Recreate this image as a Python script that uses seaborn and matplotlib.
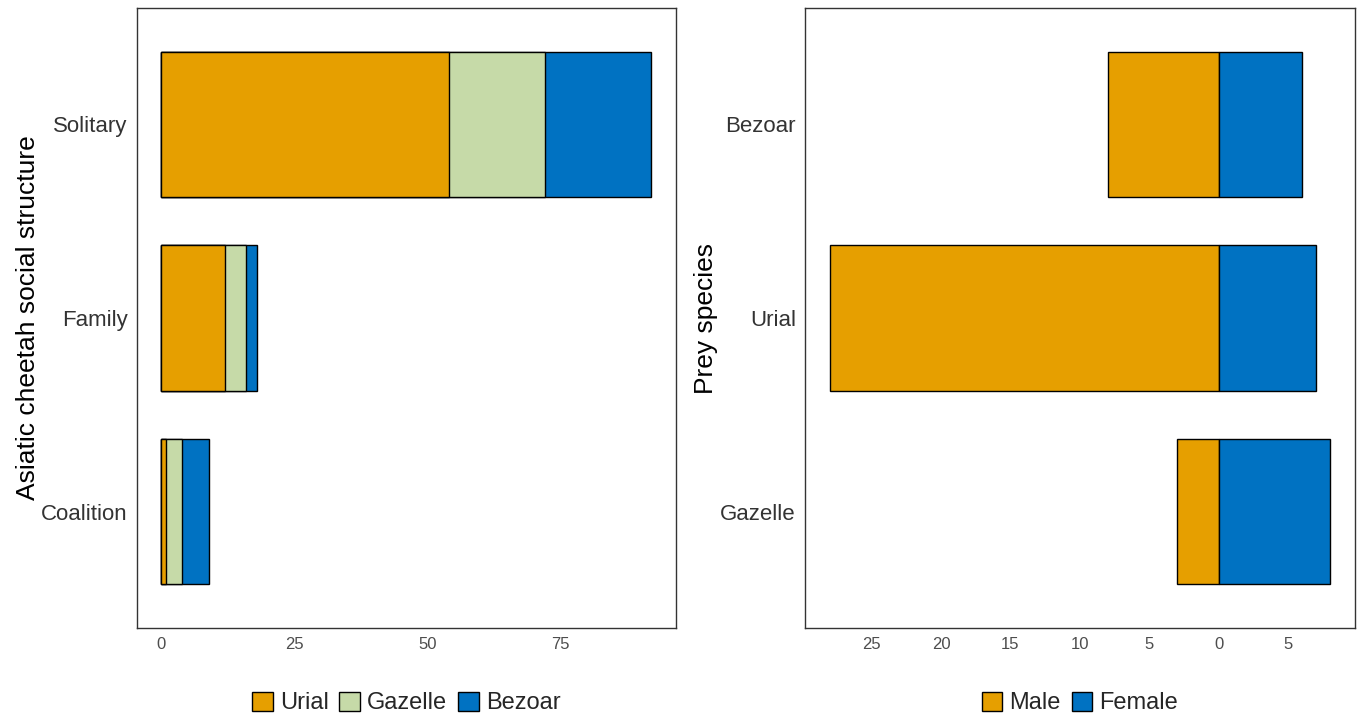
import numpy as np
import pandas as pd
import matplotlib
matplotlib.use("Agg")
import matplotlib.pyplot as plt
from matplotlib.patches import Patch
import seaborn as sns

# Kills by cheetah social structure (stacked by prey)
structures = ["Solitary", "Family", "Coalition"]
urial = [54, 12, 1]
gazelle = [18, 4, 3]
bezoar = [20, 2, 5]

# Kills by prey species split by sex of prey
species = ["Bezoar", "Urial", "Gazelle"]
male = [8, 28, 3]
female = [6, 7, 8]

left_ticks = [0, 25, 50, 75]
right_ticks = [-25, -20, -15, -10, -5, 0, 5]

C_URIAL = "#E69F00"
C_GAZELLE = "#C6DAA8"
C_BEZOAR = "#0072C2"

sns.set_style("white")
plt.rcParams["font.family"] = ["Liberation Sans", "DejaVu Sans"]

fig = plt.figure(figsize=(13.59, 7.17), dpi=100)
ax1 = fig.add_axes([0.1005, 0.1241, 0.3969, 0.8647])
ax2 = fig.add_axes([0.5923, 0.1241, 0.4047, 0.8647])

df1 = pd.DataFrame({"structure": structures, "urial": urial,
                    "gazelle": gazelle, "bezoar": bezoar})
df1["ug"] = df1["urial"] + df1["gazelle"]
df1["total"] = df1["ug"] + df1["bezoar"]

EDGE_W = 1.0
bar_kw = dict(orient="h", width=0.75, edgecolor="black", linewidth=EDGE_W,
              saturation=1, order=structures)
sns.barplot(data=df1, x="total", y="structure", color=C_BEZOAR, ax=ax1, **bar_kw)
sns.barplot(data=df1, x="ug", y="structure", color=C_GAZELLE, ax=ax1, **bar_kw)
sns.barplot(data=df1, x="urial", y="structure", color=C_URIAL, ax=ax1, **bar_kw)

df2 = pd.DataFrame({"species": species, "male": [-m for m in male], "female": female})
bar_kw2 = dict(orient="h", width=0.75, edgecolor="black", linewidth=EDGE_W,
               saturation=1, order=species)
sns.barplot(data=df2, x="male", y="species", color=C_URIAL, ax=ax2, **bar_kw2)
sns.barplot(data=df2, x="female", y="species", color=C_BEZOAR, ax=ax2, **bar_kw2)

tot_max = df1["total"].max()
pad1 = 0.05 * tot_max
ax1.set_xlim(-pad1, tot_max + pad1)
lo, hi = -max(male), max(female)
pad2 = 0.05 * (hi - lo)
ax2.set_xlim(lo - pad2, hi + pad2)

ax1.set_xticks(left_ticks)
ax1.set_xticklabels([str(t) for t in left_ticks])
ax2.set_xticks(right_ticks)
ax2.set_xticklabels([str(abs(t)) for t in right_ticks])

for ax in (ax1, ax2):
    ax.set_ylim(2.6, -0.6)
    ax.set_xlabel("")
    for s in ax.spines.values():
        s.set_visible(True)
        s.set_color("#333333")
        s.set_linewidth(1.0)
    ax.tick_params(axis="x", direction="out", length=3.5, width=0.8,
                   color="#333333", labelsize=12, labelcolor="#4D4D4D", pad=3)
    ax.tick_params(axis="y", direction="out", length=3.5, width=0.8,
                   color="#333333", labelsize=16, labelcolor="#333333", pad=3)

ax1.set_ylabel("Asiatic cheetah social structure", fontsize=19, color="black", labelpad=1)
ax2.set_ylabel("Prey species", fontsize=19, color="black", labelpad=1.5)

leg_kw = dict(loc="center", bbox_to_anchor=(0.5, -0.121), frameon=False,
              fontsize=17, handlelength=0.88, handleheight=0.88,
              handletextpad=0.3, columnspacing=0.45, borderaxespad=0)

h1 = [Patch(facecolor=C_URIAL, edgecolor="black", linewidth=EDGE_W, label="Urial"),
      Patch(facecolor=C_GAZELLE, edgecolor="black", linewidth=EDGE_W, label="Gazelle"),
      Patch(facecolor=C_BEZOAR, edgecolor="black", linewidth=EDGE_W, label="Bezoar")]
ax1.legend(handles=h1, ncol=3, **leg_kw)

h2 = [Patch(facecolor=C_URIAL, edgecolor="black", linewidth=EDGE_W, label="Male"),
      Patch(facecolor=C_BEZOAR, edgecolor="black", linewidth=EDGE_W, label="Female")]
ax2.legend(handles=h2, ncol=2, **leg_kw)

fig.savefig("out.png", dpi=100, facecolor="white")
